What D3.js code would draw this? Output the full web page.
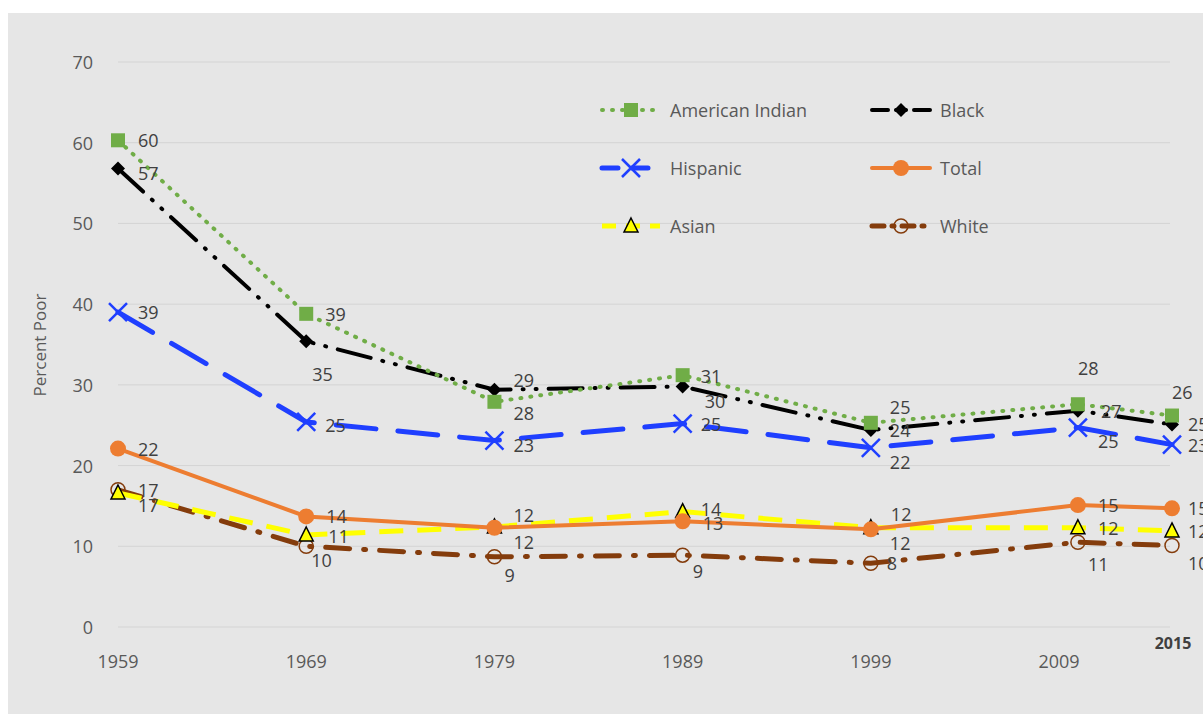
<!DOCTYPE html>
<html><head><meta charset="utf-8">
<script src="https://cdn.jsdelivr.net/npm/d3@7"></script>
<style>body{margin:0;background:#fff}text{font-family:"Open Sans","Noto Sans",sans-serif}</style>
</head><body><svg id="c" width="1203" height="714"></svg>
<script>
// years and values (percent poor)
var years = [1959, 1969, 1979, 1989, 1999, 2010, 2015];
var tickYears = [1959, 1969, 1979, 1989, 1999, 2009];
var amIndian = [60.3, 38.8, 27.9, 31.2, 25.3, 27.6, 26.2];
var black    = [56.8, 35.4, 29.4, 29.8, 24.4, 26.8, 25.1];
var hispanic = [39.0, 25.4, 23.1, 25.2, 22.2, 24.7, 22.6];
var total    = [22.1, 13.7, 12.3, 13.1, 12.1, 15.1, 14.7];
var asian    = [16.6, 11.4, 12.4, 14.3, 12.3, 12.3, 11.9];
var white    = [17.0, 10.0, 8.7, 8.9, 7.9, 10.5, 10.1];
var yTicks = [0, 10, 20, 30, 40, 50, 60, 70];

var svg = d3.select("#c");
svg.append("rect").attr("x", 8).attr("y", 13).attr("width", 1195).attr("height", 701).attr("fill", "#e6e6e6");

var x = d3.scaleLinear().domain([1959, 2015]).range([118, 1172]);
var y = d3.scaleLinear().domain([0, 70]).range([627, 62]);

// grid
svg.selectAll(".g").data(yTicks).enter().append("line")
  .attr("x1", 118).attr("x2", 1170).attr("y1", d => y(d)).attr("y2", d => y(d))
  .attr("stroke", "#d4d4d4").attr("stroke-width", 1);
svg.selectAll(".yt").data(yTicks).enter().append("text")
  .attr("x", 93).attr("y", d => y(d) + 7).attr("text-anchor", "end")
  .attr("font-size", 18).attr("fill", "#595959").text(d => d);
svg.selectAll(".xt").data(tickYears).enter().append("text")
  .attr("x", d => x(d)).attr("y", 668).attr("text-anchor", "middle")
  .attr("font-size", 18).attr("fill", "#595959").text(d => d);
svg.append("text").attr("x", 1173).attr("y", 649).attr("text-anchor", "middle")
  .attr("font-size", 16).attr("font-weight", "bold").attr("fill", "#404040").text("2015");
svg.append("text").attr("transform", "translate(46,345) rotate(-90)").attr("text-anchor", "middle")
  .attr("font-size", 17).attr("fill", "#595959").text("Percent Poor");

var series = [
  {name: "American Indian", v: amIndian, c: "#70ad47", w: 4, dash: "1,9", ldash: "1,9", cap: "round", m: "square",
   lab: [[20,0],[19,0],[19,11],[18,1],[19,-16],[0,-36],[0,-24]]},
  {name: "Black", v: black, c: "#000", w: 4, dash: "34,12,1,12,1,12", ldash: "16,8,1,8,1,8", cap: "round", m: "diamond",
   lab: [[20,4],[6,33],[19,-10],[22,15],[19,0],[23,0],[16,0]]},
  {name: "Hispanic", v: hispanic, c: "#1f3fff", w: 5, dash: "40,22", ldash: "16,14", cap: "round", m: "x",
   lab: [[20,0],[19,3],[19,4],[18,0],[19,14],[20,13],[16,0]]},
  {name: "Total", v: total, c: "#ed7d31", w: 4, dash: null, ldash: null, cap: "round", m: "circle",
   lab: [[20,0],[20,0],[19,14],[20,2],[19,14],[20,0],[16,0]]},
  {name: "Asian", v: asian, c: "#ffff00", w: 5, dash: "24,14", ldash: "14,10", cap: "butt", m: "triangle",
   lab: [[20,12],[22,1],[19,-12],[18,-3],[20,-14],[20,0],[16,0]]},
  {name: "White", v: white, c: "#843c0c", w: 5, dash: "24,14,2,14", ldash: "12,8,2,8", cap: "round", m: "ocircle",
   lab: [[20,0],[5,14],[10,18],[10,16],[16,0],[10,22],[16,18]]}
];

function marker(g, s, px, py) {
  if (s.m === "square") g.append("rect").attr("x", px - 7).attr("y", py - 7).attr("width", 14).attr("height", 14).attr("fill", s.c);
  else if (s.m === "diamond") g.append("path").attr("d", "M0,-7L7,0L0,7L-7,0Z").attr("transform", "translate(" + px + "," + py + ")").attr("fill", s.c);
  else if (s.m === "x") g.append("path").attr("d", "M-9,-9L9,9M-9,9L9,-9").attr("transform", "translate(" + px + "," + py + ")").attr("stroke", s.c).attr("stroke-width", 2.5);
  else if (s.m === "circle") g.append("circle").attr("cx", px).attr("cy", py).attr("r", 8).attr("fill", s.c);
  else if (s.m === "triangle") g.append("path").attr("d", "M0,-8L7,6L-7,6Z").attr("transform", "translate(" + px + "," + py + ")").attr("fill", "#ffff00").attr("stroke", "#000").attr("stroke-width", 1.5);
  else g.append("circle").attr("cx", px).attr("cy", py).attr("r", 7).attr("fill", "none").attr("stroke", s.c).attr("stroke-width", 1.5);
}

var line = d3.line().x(d => x(d[0])).y(d => y(d[1]));
// draw back-to-front
series.slice().reverse().forEach(function(s) {
  var pts = years.map((yr, i) => [yr, s.v[i]]);
  var g = svg.append("g");
  g.append("path").attr("d", line(pts)).attr("fill", "none").attr("stroke", s.c)
    .attr("stroke-width", s.w).attr("stroke-dasharray", s.dash).attr("stroke-linecap", s.cap);
  pts.forEach(p => marker(g, s, x(p[0]), y(p[1])));
});
series.forEach(function(s) {
  years.forEach(function(yr, i) {
    var o = s.lab[i];
    svg.append("text").attr("x", x(yr) + o[0]).attr("y", y(s.v[i]) + o[1] + 7)
      .attr("font-size", 18).attr("fill", "#404040").text(Math.round(s.v[i]));
  });
});

// legend
series.forEach(function(s, i) {
  var lx = i % 2 === 0 ? 602 : 872, ly = 110 + Math.floor(i / 2) * 58;
  var g = svg.append("g");
  g.append("line").attr("x1", lx).attr("x2", lx + 58).attr("y1", ly).attr("y2", ly).attr("stroke", s.c)
    .attr("stroke-width", s.w).attr("stroke-dasharray", s.ldash).attr("stroke-linecap", s.cap);
  marker(g, s, lx + 29, ly);
  g.append("text").attr("x", lx + 68).attr("y", ly + 7).attr("font-size", 18).attr("fill", "#595959").text(s.name);
});
</script></body></html>
